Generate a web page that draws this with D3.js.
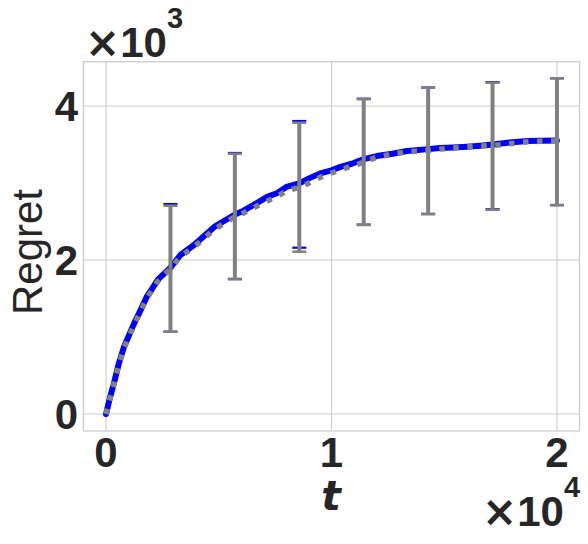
<!DOCTYPE html>
<html>
<head>
<meta charset="utf-8">
<script src="https://cdn.jsdelivr.net/npm/d3@7"></script>
<style>
  body { margin: 0; background: #fff; }
  svg { display: block; }
</style>
</head>
<body>
<svg width="588" height="544"></svg>
<script>
// time steps
var tValues = [0, 170, 350, 560, 800, 1000, 1250, 1500, 1800, 2050, 2300, 2600, 2857, 3300, 3900, 4300,
  4800, 5250, 5714, 6100, 6550, 7150, 7600, 8000, 8571, 9000, 9500, 10000, 10400, 10900, 11429,
  12000, 12700, 13350, 14286, 14800, 15400, 16000, 16600, 17143, 17900, 18700, 19300, 20000];

// mean regret, blue solid series
var blueMean = [0, 210, 400, 650, 875, 1010, 1180, 1330, 1520, 1630, 1745, 1830, 1900, 2065, 2195, 2300,
  2430, 2510, 2590, 2640, 2715, 2820, 2870, 2950, 2995, 3060, 3125, 3165, 3210, 3250, 3310,
  3350, 3380, 3415, 3440, 3455, 3462, 3472, 3485, 3500, 3525, 3545, 3550, 3552];

// mean regret, gray dotted series
var grayMean = [0, 200, 390, 630, 860, 990, 1165, 1310, 1500, 1610, 1725, 1815, 1887, 2045, 2170, 2270,
  2395, 2480, 2560, 2610, 2680, 2765, 2830, 2895, 2945, 3000, 3075, 3130, 3170, 3220, 3270,
  3335, 3375, 3405, 3420, 3440, 3455, 3468, 3480, 3485, 3510, 3535, 3542, 3545];

// error bars
var errT = [2857, 5714, 8571, 11429, 14286, 17143, 20000];
var blueLow = [1069, 1755, 2160, 2460, 2600, 2660, 2715];
var blueHigh = [2727, 3390, 3805, 4095, 4240, 4310, 4360];
var grayLow = [1069, 1749, 2108, 2455, 2594, 2653, 2710];
var grayHigh = [2705, 3380, 3783, 4087, 4238, 4303, 4360];

// ticks
var xTicks = [0, 10000, 20000];
var xTickLabels = ["0", "1", "2"];
var yTicks = [0, 2000, 4000];
var yTickLabels = ["0", "2", "4"];

var svg = d3.select("svg");
var boldFont = "'Liberation Sans', Arial, sans-serif";

var x = d3.scaleLinear().domain([-1000, 21000]).range([83.5, 579.5]);
var y = d3.scaleLinear().domain([-220, 4575]).range([431, 61.7]);

svg.append("rect").attr("width", 588).attr("height", 544).attr("fill", "#fff");

// grid
svg.append("g").selectAll("line").data(xTicks).enter().append("line")
  .attr("x1", d => x(d)).attr("x2", d => x(d))
  .attr("y1", y.range()[0]).attr("y2", y.range()[1])
  .attr("stroke", "#cccccc").attr("stroke-width", 1.1);
svg.append("g").selectAll("line").data(yTicks).enter().append("line")
  .attr("y1", d => y(d)).attr("y2", d => y(d))
  .attr("x1", x.range()[0]).attr("x2", x.range()[1])
  .attr("stroke", "#cccccc").attr("stroke-width", 1.1);

// frame
svg.append("rect")
  .attr("x", x.range()[0]).attr("y", y.range()[1])
  .attr("width", x.range()[1] - x.range()[0])
  .attr("height", y.range()[0] - y.range()[1])
  .attr("fill", "none").attr("stroke", "#cccccc").attr("stroke-width", 1.3);

var line = d3.line().x(d => x(d[0])).y(d => y(d[1]));

// blue series
svg.append("path")
  .datum(tValues.map((t, i) => [t, blueMean[i]]))
  .attr("d", line)
  .attr("fill", "none").attr("stroke", "#0000ff").attr("stroke-width", 6)
  .attr("stroke-linejoin", "round").attr("stroke-linecap", "round");

function errorBars(low, high, color, w, capW) {
  var g = svg.append("g");
  g.selectAll(".v").data(errT).enter().append("line")
    .attr("x1", d => x(d)).attr("x2", d => x(d))
    .attr("y1", (d, i) => y(low[i])).attr("y2", (d, i) => y(high[i]))
    .attr("stroke", color).attr("stroke-width", w);
  g.selectAll(".lo").data(errT).enter().append("line")
    .attr("x1", d => x(d) - 7).attr("x2", d => x(d) + 7)
    .attr("y1", (d, i) => y(low[i])).attr("y2", (d, i) => y(low[i]))
    .attr("stroke", color).attr("stroke-width", capW);
  g.selectAll(".hi").data(errT).enter().append("line")
    .attr("x1", d => x(d) - 7).attr("x2", d => x(d) + 7)
    .attr("y1", (d, i) => y(high[i])).attr("y2", (d, i) => y(high[i]))
    .attr("stroke", color).attr("stroke-width", capW);
}

errorBars(blueLow, blueHigh, "#0000ff", 1.5, 2.2);

// gray dotted series
svg.append("path")
  .datum(tValues.map((t, i) => [t, grayMean[i]]))
  .attr("d", line)
  .attr("fill", "none").attr("stroke", "#808080").attr("stroke-width", 5.5)
  .attr("stroke-dasharray", "5.5,8.5");

errorBars(grayLow, grayHigh, "#808080", 4, 2.5);

// tick labels
svg.append("g").selectAll("text").data(xTicks).enter().append("text")
  .attr("x", d => x(d)).attr("y", 466.7)
  .attr("text-anchor", "middle")
  .style("font-family", boldFont).style("font-weight", "bold").style("font-size", "42px")
  .attr("fill", "#262626")
  .text((d, i) => xTickLabels[i]);

svg.append("g").selectAll("text").data(yTicks).enter().append("text")
  .attr("x", 78).attr("y", d => y(d) + 15)
  .attr("text-anchor", "end")
  .style("font-family", boldFont).style("font-weight", "bold").style("font-size", "42px")
  .attr("fill", "#262626")
  .text((d, i) => yTickLabels[i]);

// axis labels
svg.append("text")
  .attr("transform", "translate(42,252) rotate(-90)")
  .attr("text-anchor", "middle")
  .style("font-family", boldFont).style("font-size", "42px")
  .attr("fill", "#262626")
  .text("Regret");

svg.append("text")
  .attr("x", 331).attr("y", 510)
  .attr("text-anchor", "middle")
  .style("font-family", "'DejaVu Sans', sans-serif").style("font-weight", "bold")
  .style("font-style", "italic").style("font-size", "41px")
  .attr("fill", "#262626")
  .text("t");

// offset texts
function offsetText(xPos, yPos, power) {
  var t = svg.append("text")
    .attr("x", xPos).attr("y", yPos)
    .style("font-family", boldFont).style("font-weight", "bold").style("font-size", "42px")
    .attr("fill", "#262626");
  t.append("tspan").style("font-family", "'DejaVu Sans', sans-serif").text("\u00d7");
  t.append("tspan").text("10");
  t.append("tspan").attr("dy", -29).style("font-size", "29px").text(power);
}
offsetText(85, 57, "3");
offsetText(482, 526, "4");
</script>
</body>
</html>
